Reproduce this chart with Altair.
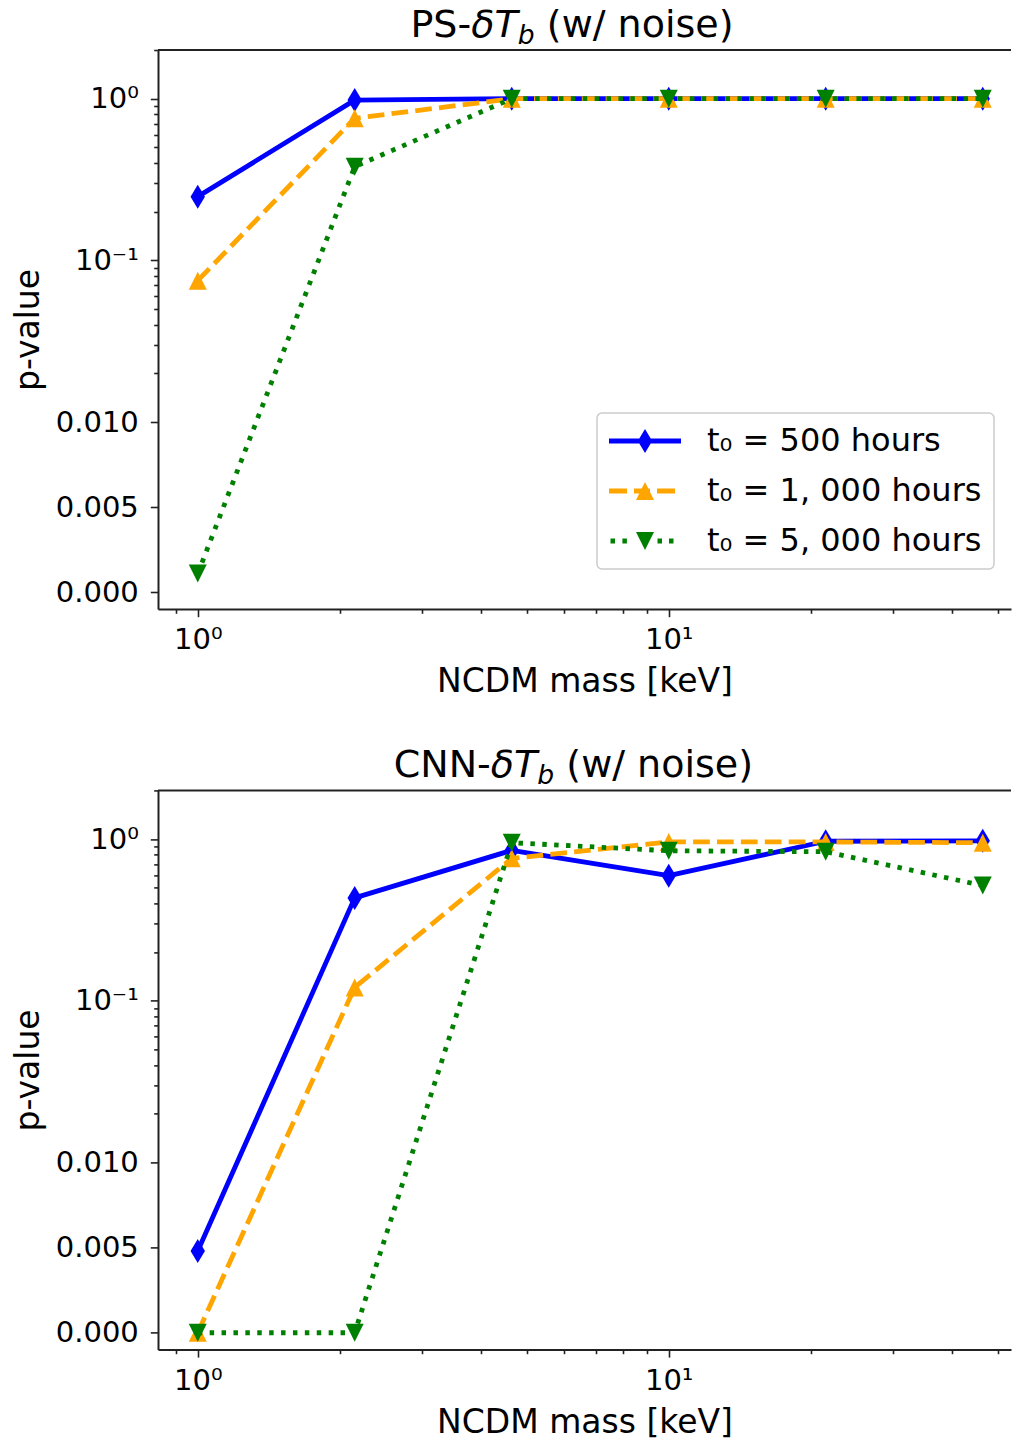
import math
import altair as alt
import pandas as pd

# ---------------- data ----------------
mass_kev = [1.0, 2.154, 4.642, 10.0, 21.54, 46.42]
series_names = ["t₀ = 500 hours", "t₀ = 1, 000 hours", "t₀ = 5, 000 hours"]

ps_500h = [0.248, 0.98, 1.0, 1.0, 1.0, 1.0]
ps_1000h = [0.075, 0.756, 1.0, 1.0, 1.0, 1.0]
ps_5000h = [0.0011, 0.38, 1.0, 1.0, 1.0, 1.0]

cnn_500h = [0.0048, 0.433, 0.852, 0.594, 0.97, 0.975]
cnn_1000h = [0.0, 0.121, 0.76, 0.96, 0.96, 0.95]
cnn_5000h = [0.0, 0.0, 0.95, 0.847, 0.835, 0.516]

x_major_ticks = [1, 10]
x_major_labels = ["10⁰", "10¹"]
x_minor_ticks = [0.9, 2, 3, 4, 5, 6, 7, 8, 9, 20, 30, 40, 50]

y_major_values = [0.0, 0.005, 0.01, 0.1, 1.0]
y_major_labels = ["0.000", "0.005", "0.010", "10⁻¹", "10⁰"]

# ---------------- styles ----------------
FONT = "DejaVu Sans"
W, H = 853, 559
LIN = 1.052          # width of the linear part (0 .. 0.01) in decades
LINTHRESH = 0.01
colors = ["#0000ff", "#ffa500", "#008000"]
dashes = [None, [16.7, 7.2], [4.5, 7.4]]
marker_paths = [
    "M0,-1L0.6,0L0,1L-0.6,0Z",
    "M0,-0.75L0.75,0.75L-0.75,0.75Z",
    "M0,0.75L-0.75,-0.75L0.75,-0.75Z",
]

LU = 16.0  # legend symbol unit in px (sqrt(symbolSize)/2)


def rect(x0, x1, h=2.4, u=LU):
    return f"M{x0/u:.4f},{-h/u:.4f}H{x1/u:.4f}V{h/u:.4f}H{x0/u:.4f}Z"


def poly(pts, u=LU):
    return "M" + "L".join(f"{x/u:.4f},{y/u:.4f}" for x, y in pts) + "Z"


legend_paths = [
    rect(-36, 36) + poly([(0, -12), (7.2, 0), (0, 12), (-7.2, 0)]),
    rect(-36, -18) + rect(-11, 5) + rect(12, 30) + poly([(0, -9), (9, 9), (-9, 9)]),
    rect(-34.5, -30) + rect(-22.6, -18.1) + rect(12.5, 17) + rect(24, 28.5)
    + poly([(0, 9), (-9, -9), (9, -9)]),
]


def sym_t(v):
    if v <= LINTHRESH:
        return round(LIN * v / LINTHRESH, 6)
    return round(LIN + math.log10(v / LINTHRESH), 6)


TEXPR = (f"datum.p <= {LINTHRESH} ? {LIN} * datum.p / {LINTHRESH} : "
         f"{LIN} + log(datum.p / {LINTHRESH}) / LN10")

y_major_t = [sym_t(v) for v in y_major_values]
y_minor_t = ([sym_t(k * 0.01) for k in range(2, 10)]
             + [sym_t(k * 0.1) for k in range(2, 10)] + [sym_t(2.0)])
y_top = sym_t(2.0)
y_bottom = -0.103


def label_expr(vals, labels):
    parts = [f"abs(datum.value - {v}) < 0.000001 ? '{l}'" for v, l in zip(vals, labels)]
    return " : ".join(parts) + " : ''"


xscale = alt.Scale(type="log", domain=[0.8234, 53.3], nice=False)
yscale = alt.Scale(type="linear", domain=[y_bottom, y_top], nice=False, zero=False)

x_major_axis = alt.Axis(
    values=x_major_ticks, labelExpr=label_expr(x_major_ticks, x_major_labels),
    tickSize=7.7, orient="bottom", title="NCDM mass [keV]", labelPadding=9,
    titlePadding=11, labelFlush=False, labelOverlap=False, grid=False,
)
x_minor_axis = alt.Axis(
    values=x_minor_ticks, labels=False, tickSize=4.3, orient="bottom", title=None,
    domain=False, grid=False,
)
y_major_axis = alt.Axis(
    values=y_major_t, labelExpr=label_expr(y_major_t, y_major_labels),
    tickSize=7.7, orient="left", title="p-value", labelPadding=12, titlePadding=10,
    labelOverlap=False, grid=False,
)
y_minor_axis = alt.Axis(
    values=y_minor_t, labels=False, tickSize=4.3, orient="left", title=None,
    domain=False, grid=False,
)


def one_row():
    return alt.Data(values=[{"k": 0}])


def panel(series_values, title_parts):
    layers = []
    for i, (name, vals) in enumerate(zip(series_names, series_values)):
        df = pd.DataFrame({"mass": mass_kev, "p": vals})
        base = alt.Chart(df).transform_calculate(t=TEXPR)
        line_kw = dict(color=colors[i], strokeWidth=4.8, strokeJoin="round")
        if dashes[i]:
            line_kw["strokeDash"] = dashes[i]
        line = base.mark_line(**line_kw).encode(
            x=alt.X("mass:Q", scale=xscale, axis=x_major_axis if i == 0 else None),
            y=alt.Y("t:Q", scale=yscale, axis=y_major_axis if i == 0 else None),
        )
        pts = base.mark_point(filled=True, opacity=1, size=576,
                              shape=marker_paths[i], color=colors[i]).encode(
            x=alt.X("mass:Q", scale=xscale, axis=x_minor_axis if i == 0 else None),
            y=alt.Y("t:Q", scale=yscale, axis=y_minor_axis if i == 0 else None),
        )
        layers += [line, pts]

    leg = alt.Legend(
        title=None, orient="none", legendX=439, legendY=363,
        labelFont=FONT, labelFontSize=32, labelColor="black", labelLimit=1000,
        symbolSize=(2 * LU) ** 2, symbolStrokeWidth=0, symbolOffset=20,
        labelOffset=46, padding=12, rowPadding=18,
        strokeColor="#cccccc", fillColor="white", cornerRadius=5,
    )
    leg_df = pd.DataFrame({"series": series_names, "mass": [1.0] * 3, "p": [1.0] * 3})
    legend_layer = alt.Chart(leg_df).transform_filter("false").transform_calculate(
        t=TEXPR).mark_point(filled=True, opacity=1).encode(
        x=alt.X("mass:Q", scale=xscale, axis=None),
        y=alt.Y("t:Q", scale=yscale, axis=None),
        color=alt.Color("series:N", scale=alt.Scale(domain=series_names, range=colors),
                        legend=leg),
        shape=alt.Shape("series:N", scale=alt.Scale(domain=series_names, range=legend_paths),
                        legend=leg),
    )
    layers.append(legend_layer)

    top_rule = alt.Chart(one_row()).mark_rule(color="#222222", strokeWidth=2).encode(
        x=alt.value(0), x2=alt.value(W), y=alt.value(0))
    layers.append(top_rule)

    for text, x, y, size, style in title_parts:
        layers.append(
            alt.Chart(one_row()).mark_text(
                align="left", baseline="alphabetic", font=FONT, fontSize=size,
                fontStyle=style, color="black",
            ).encode(x=alt.value(x), y=alt.value(y), text=alt.value(text))
        )
    return alt.layer(*layers).resolve_axis(x="independent", y="independent").properties(
        width=W, height=H)


top = panel(
    [ps_500h, ps_1000h, ps_5000h],
    [("PS-", 252.4, -13, 38, "normal"), ("δT", 313.2, -13, 38, "italic"),
     ("b", 359.8, -6, 26.6, "italic"), ("(w/ noise)", 388.8, -13, 38, "normal")],
)
bottom = panel(
    [cnn_500h, cnn_1000h, cnn_5000h],
    [("CNN-", 235.7, -13, 38, "normal"), ("δT", 332.8, -13, 38, "italic"),
     ("b", 379.3, -6, 26.6, "italic"), ("(w/ noise)", 408.3, -13, 38, "normal")],
)

chart = alt.vconcat(top, bottom, spacing=181.4, bounds="flush").properties(
    padding={"left": 12, "top": 7, "right": 0, "bottom": 0},
    background="white",
).configure_view(stroke=None).configure_axis(
    labelFont=FONT, titleFont=FONT, labelFontSize=29, titleFontSize=33,
    labelColor="black", titleColor="black", titleFontWeight="normal",
    domainColor="#222222", tickColor="#222222", domainWidth=2, tickWidth=1.6,
).configure_legend(strokeWidth=1.5)

chart.save("out.html", embed_options={"renderer": "svg", "actions": False})
